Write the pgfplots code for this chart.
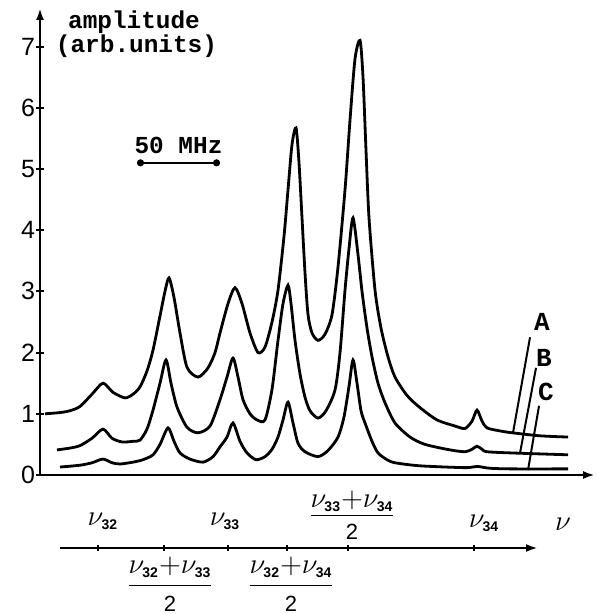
\documentclass[border=0pt]{standalone}
\usepackage{fontspec}
\setmainfont{Liberation Serif}
\setsansfont{Liberation Sans}
\setmonofont{Liberation Mono}
\usepackage{pgfplots}
\pgfplotsset{compat=1.18}
\usetikzlibrary{arrows.meta}

% nu with a small bold index, and the half-sum labels
\newcommand{\nn}[1]{\nu_{\hbox{\fontsize{7}{7}\selectfont\sffamily\bfseries #1}}}
\newcommand{\half}[4]{\displaystyle\frac{\raisebox{#3}{$\nn{#1}{+}\nn{#2}$}}{\raisebox{#4}{\fontsize{11}{11}\selectfont\sffamily 2}}}
\newcommand{\tw}{\fontsize{12.2}{14}\selectfont\ttfamily\bfseries}

% x is in picture units (scale bar: 83 units = 50 MHz)
\pgfplotstableread{
x y
45 1.00
60 1.02
70 1.05
80 1.12
92 1.32
103 1.50
113 1.35
125 1.26
133 1.32
140 1.44
147 1.70
153 2.04
160 2.60
165 3.00
169 3.22
174 2.90
180 2.32
187 1.76
198 1.60
208 1.75
215 2.00
220 2.32
228 2.80
235 3.06
242 2.80
250 2.32
258 2.00
265 2.09
272 2.50
278 3.02
284 3.90
288 4.66
292 5.40
296 5.67
299 5.10
302 4.20
305 3.30
308 2.62
312 2.32
318 2.20
325 2.30
332 2.62
338 3.40
345 4.66
350 5.80
355 6.80
360 7.10
363 6.50
366 5.30
369 4.20
375 3.02
381 2.40
388 1.93
395 1.60
407 1.30
420 1.10
437 0.90
455 0.80
465 0.76
472 0.88
477 1.06
482 0.88
487 0.77
500 0.72
512 0.69
540 0.64
568 0.62
}\curveA
\pgfplotstableread{
x y
57 0.41
70 0.44
80 0.48
92 0.60
103 0.75
112 0.60
122 0.54
133 0.55
140 0.57
147 0.75
153 1.06
160 1.50
166 1.88
171 1.50
177 1.11
187 0.78
198 0.69
210 0.80
220 1.23
227 1.60
233 1.91
238 1.60
243 1.23
250 1.00
257 0.90
265 0.90
272 1.40
278 2.20
283 2.80
288 3.10
291 2.80
295 2.20
300 1.65
305 1.27
310 1.05
318 0.93
326 1.05
335 1.39
340 2.00
345 3.02
349 3.70
353 4.20
358 3.60
362 3.00
367 2.40
372 1.93
378 1.50
385 1.18
395 0.85
410 0.62
425 0.50
450 0.41
465 0.38
472 0.42
477 0.47
482 0.42
487 0.38
512 0.36
568 0.33
}\curveB
\pgfplotstableread{
x y
60 0.13
80 0.16
92 0.20
103 0.26
112 0.20
120 0.18
133 0.21
143 0.25
153 0.33
160 0.50
168 0.77
174 0.55
180 0.36
190 0.26
203 0.21
213 0.30
220 0.46
227 0.62
233 0.85
240 0.55
247 0.36
256 0.25
265 0.30
272 0.42
278 0.62
283 0.90
288 1.19
293 0.85
298 0.52
305 0.38
318 0.30
328 0.40
338 0.62
344 0.95
349 1.45
353 1.88
357 1.50
361 1.05
365 0.85
372 0.55
378 0.36
387 0.25
395 0.20
420 0.15
465 0.12
477 0.14
490 0.11
512 0.10
568 0.10
}\curveC

\begin{document}
\begin{tikzpicture}
\useasboundingbox (-20pt,-69.5pt) rectangle (278.5pt,237.5pt);
\begin{axis}[scale only axis,width=277.5pt,height=233.5pt,
  xmin=40,xmax=595,ymin=0,ymax=7.63,
  axis lines=left,clip=false,
  axis line style={line width=1.4pt,-{Latex[length=6pt,width=4pt]}},
  xtick=\empty,ytick={0,...,7},
  tick align=center,major tick length=4pt,
  tick style={line width=1pt,black},
  yticklabel style={font=\fontsize{12.5}{14}\selectfont\sffamily,xshift=3pt},
  /pgf/number format/assume math mode=true]
\addplot[line width=1.4pt,black,smooth,tension=0.45,no markers] table[x=x,y=y] {\curveA};
\addplot[line width=1.4pt,black,smooth,tension=0.45,no markers] table[x=x,y=y] {\curveB};
\addplot[line width=1.4pt,black,smooth,tension=0.45,no markers] table[x=x,y=y] {\curveC};
\node[font=\tw] at (axis cs:134,7.40) {amplitude};
\node[font=\tw] at (axis cs:136.5,7.00) {(arb.units)};
\node[font=\tw] at (axis cs:178.5,5.39) {50 MHz};
\draw[line width=1.3pt,{Circle[length=3.5pt]}-{Circle[length=3.5pt]}] (axis cs:137,5.10) -- (axis cs:220,5.10);
\draw[line width=1pt] (axis cs:530,2.25) -- (axis cs:513,0.69);
\draw[line width=1pt] (axis cs:536,1.75) -- (axis cs:520,0.36);
\draw[line width=1pt] (axis cs:539,1.13) -- (axis cs:528,0.08);
\node[font=\fontsize{13}{14}\selectfont\ttfamily\bfseries] at (axis cs:542,2.50) {A};
\node[font=\fontsize{13}{14}\selectfont\ttfamily\bfseries] at (axis cs:544,1.91) {B};
\node[font=\fontsize{13}{14}\selectfont\ttfamily\bfseries] at (axis cs:546,1.36) {C};
\end{axis}
\begin{axis}[at={(10pt,-36.5pt)},anchor=south west,scale only axis,
  width=239pt,height=6pt,xmin=60,xmax=538,ymin=0,ymax=1,
  axis x line=bottom,axis y line=none,clip=false,
  x axis line style={line width=1.4pt,-{Latex[length=6pt,width=4pt]}},
  xtick={98,164,228,287,348,474},xticklabels={},
  tick align=center,major tick length=3pt,tick style={line width=1pt,black}]
\node[anchor=base,font=\Large,yshift=11.5pt] at (axis cs:103,0) {$\nn{32}$};
\node[anchor=base,font=\Large,yshift=11.5pt] at (axis cs:225,0) {$\nn{33}$};
\node[anchor=base,font=\Large,yshift=10.5pt] at (axis cs:484,0) {$\nn{34}$};
\node[anchor=south,font=\Large,yshift=1.5pt,inner ysep=1pt] at (axis cs:352,0) {$\half{33}{34}{-2pt}{1.5pt}$};
\node[anchor=north,font=\Large,yshift=-3pt,inner ysep=1pt] at (axis cs:170,0) {$\half{32}{33}{0pt}{0.5pt}$};
\node[anchor=north,font=\Large,yshift=-3pt,inner ysep=1pt] at (axis cs:291,0) {$\half{32}{34}{0pt}{0.5pt}$};
\node[font=\Large] at (axis cs:563,0) [yshift=12pt] {$\nu$};
\end{axis}
\end{tikzpicture}
\end{document}
